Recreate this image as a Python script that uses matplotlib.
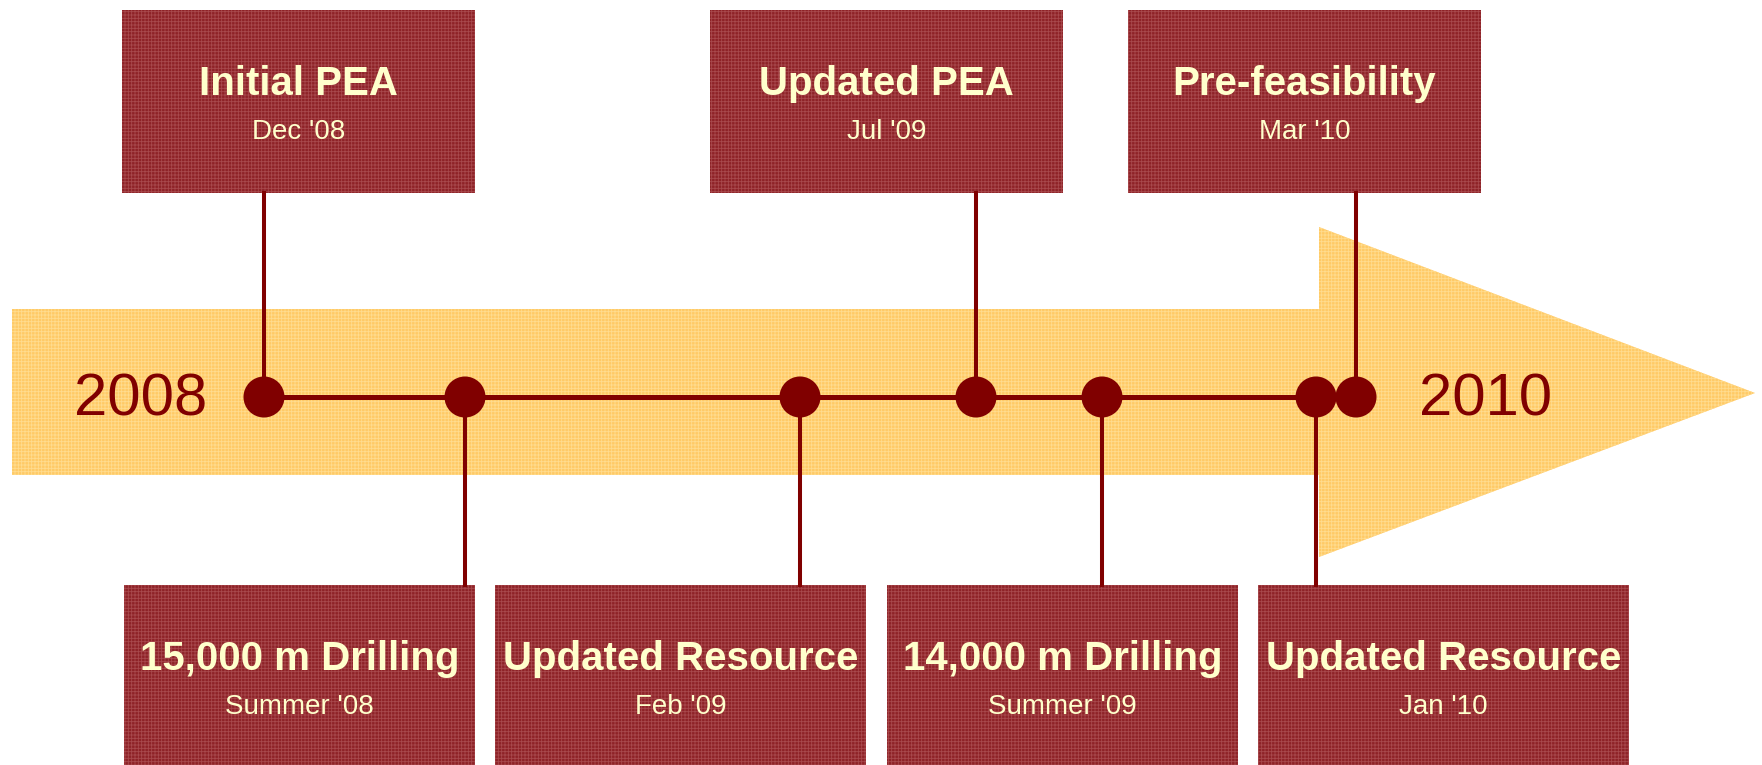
import matplotlib.pyplot as plt
from matplotlib.patches import Rectangle, Polygon, Circle

plt.rcParams['font.family'] = ['Liberation Sans', 'DejaVu Sans']
plt.rcParams['hatch.linewidth'] = 0.6

# Milestones, in order along the timeline
titles = ["Initial PEA", "15,000 m Drilling", "Updated Resource", "Updated PEA",
          "14,000 m Drilling", "Updated Resource", "Pre-feasibility"]
dates = ["Dec '08", "Summer '08", "Feb '09", "Jul '09",
         "Summer '09", "Jan '10", "Mar '10"]
sides = ["top", "bottom", "bottom", "top", "bottom", "bottom", "top"]
# position of each milestone on the timeline (pixels of the original slide)
marks = [264, 465, 800, 976, 1102, 1316, 1356]
start_year = "2008"
end_year = "2010"

# box extents (left, right) for each milestone
box_x = [(122, 475), (124, 475), (495, 866), (710, 1063),
         (887, 1238), (1258, 1629), (1128, 1481)]

RED = "#8e2227"
RED_HATCH = "#a8494d"
DARK = "#800000"
CREAM = "#ffffcc"
GOLD = "#ffca66"
GOLD_HATCH = "#ffdc8f"

W, H = 1762, 765
fig = plt.figure(figsize=(W / 100, H / 100), dpi=100)
ax = fig.add_axes([0, 0, 1, 1])
ax.set_xlim(0, W)
ax.set_ylim(H, 0)
ax.axis("off")

# big arrow in the background
line_y = 397
arrow = Polygon([(12, 309), (1319, 309), (1319, 227), (1755, 393),
                 (1319, 557), (1319, 475), (12, 475)], closed=True,
                facecolor=GOLD, edgecolor=GOLD_HATCH, linewidth=0,
                hatch="+++++", zorder=1)
ax.add_patch(arrow)

ax.text(141, 415, start_year, fontsize=43, color=DARK, ha="center",
        va="baseline", zorder=5)
ax.text(1486, 415, end_year, fontsize=43, color=DARK, ha="center",
        va="baseline", zorder=5)

# main line
ax.plot([marks[0], marks[-2]], [line_y, line_y], color=DARK, lw=3.6,
        solid_capstyle="butt", zorder=3)

for t, d, s, m, (x0, x1) in zip(titles, dates, sides, marks, box_x):
    if s == "top":
        y0, y1 = 10, 193
        ax.plot([m, m], [y1, line_y], color=DARK, lw=2.9, zorder=3)
    else:
        y0, y1 = 585, 765
        ax.plot([m, m], [line_y, y0], color=DARK, lw=2.9, zorder=3)
    box = Rectangle((x0, y0), x1 - x0, y1 - y0, facecolor=RED,
                    edgecolor=RED_HATCH, linewidth=0, hatch="+++++", zorder=2)
    ax.add_patch(box)
    cx = (x0 + x1) / 2
    ax.text(cx, y0 + 85, t, fontsize=29, fontweight="bold", color=CREAM,
            ha="center", va="baseline", zorder=5)
    ax.text(cx, y0 + 129, d, fontsize=20, color=CREAM,
            ha="center", va="baseline", zorder=5)
    ax.add_patch(Circle((m, line_y), 20.5, facecolor=DARK, edgecolor="none",
                        zorder=4))

fig.savefig("out.png", dpi=100)
